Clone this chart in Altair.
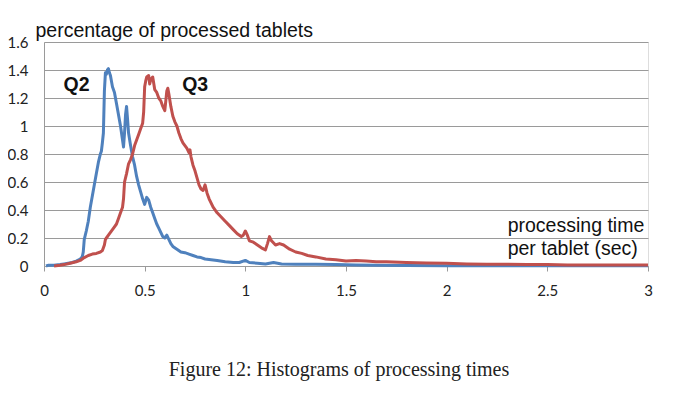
import altair as alt
import pandas as pd

# Q2 histogram (blue)
q2_x = [0.01, 0.02, 0.05, 0.08, 0.10, 0.12, 0.14, 0.16, 0.18, 0.19, 0.195, 0.20, 0.21, 0.22, 0.23,
        0.24, 0.25, 0.26, 0.27, 0.28, 0.285, 0.29, 0.295, 0.30, 0.305, 0.31, 0.315, 0.32, 0.325, 0.33,
        0.34, 0.35, 0.36, 0.37, 0.38, 0.39, 0.395, 0.40, 0.405, 0.41, 0.415, 0.42, 0.43, 0.44, 0.45,
        0.46, 0.47, 0.48, 0.49, 0.50, 0.51, 0.52, 0.53, 0.54, 0.55, 0.56, 0.57, 0.58, 0.59, 0.60,
        0.61, 0.62, 0.63, 0.64, 0.66, 0.68, 0.70, 0.72, 0.74, 0.76, 0.78, 0.80, 0.83, 0.86, 0.90,
        0.94, 0.97, 1.00, 1.02, 1.06, 1.10, 1.14, 1.18, 1.25, 1.35, 1.45, 1.55, 1.65, 1.80, 2.00,
        2.50, 3.00]
q2_y = [0.0, 0.005, 0.005, 0.01, 0.015, 0.02, 0.025, 0.035, 0.05, 0.065, 0.10, 0.19, 0.25, 0.32, 0.42,
        0.50, 0.58, 0.66, 0.74, 0.80, 0.82, 0.88, 0.95, 1.25, 1.38, 1.37, 1.40, 1.41, 1.38, 1.36,
        1.28, 1.24, 1.16, 1.08, 1.00, 0.90, 0.85, 0.95, 1.08, 1.14, 1.05, 0.95, 0.86, 0.78, 0.72,
        0.64, 0.58, 0.53, 0.48, 0.44, 0.49, 0.47, 0.42, 0.38, 0.34, 0.30, 0.27, 0.24, 0.21, 0.20,
        0.22, 0.19, 0.16, 0.14, 0.12, 0.10, 0.095, 0.085, 0.075, 0.065, 0.06, 0.05, 0.045, 0.04, 0.03,
        0.025, 0.025, 0.04, 0.025, 0.02, 0.015, 0.025, 0.015, 0.012, 0.012, 0.01, 0.008, 0.005, 0.003, 0.002,
        0.002, 0.002]

# Q3 histogram (red)
q3_x = [0.05, 0.08, 0.10, 0.13, 0.16, 0.18, 0.20, 0.22, 0.24, 0.26, 0.28, 0.29, 0.30, 0.305, 0.31,
        0.32, 0.33, 0.34, 0.35, 0.36, 0.37, 0.38, 0.39, 0.395, 0.40, 0.41, 0.42, 0.43, 0.44, 0.45,
        0.46, 0.47, 0.48, 0.49, 0.495, 0.50, 0.505, 0.51, 0.52, 0.525, 0.53, 0.54, 0.55, 0.56, 0.57,
        0.58, 0.59, 0.60, 0.605, 0.61, 0.615, 0.62, 0.63, 0.64, 0.65, 0.66, 0.67, 0.68, 0.69, 0.70,
        0.71, 0.72, 0.725, 0.73, 0.74, 0.75, 0.76, 0.77, 0.78, 0.79, 0.80, 0.81, 0.82, 0.84, 0.86,
        0.88, 0.90, 0.92, 0.94, 0.96, 0.98, 0.99, 1.00, 1.01, 1.02, 1.04, 1.06, 1.08, 1.10, 1.11,
        1.12, 1.13, 1.15, 1.17, 1.19, 1.22, 1.25, 1.28, 1.31, 1.35, 1.40, 1.45, 1.50, 1.55, 1.60,
        1.65, 1.70, 1.80, 1.90, 2.00, 2.10, 2.20, 2.30, 2.40, 2.50, 2.60, 2.70, 2.80, 2.90, 3.00]
q3_y = [0.0, 0.005, 0.01, 0.02, 0.03, 0.04, 0.06, 0.075, 0.085, 0.09, 0.10, 0.11, 0.15, 0.19, 0.20,
        0.22, 0.24, 0.26, 0.28, 0.30, 0.34, 0.38, 0.42, 0.48, 0.60, 0.66, 0.73, 0.76, 0.80, 0.86,
        0.90, 0.94, 0.98, 1.02, 1.10, 1.28, 1.32, 1.35, 1.36, 1.30, 1.33, 1.35, 1.26, 1.24, 1.20,
        1.18, 1.14, 1.11, 1.18, 1.25, 1.27, 1.23, 1.14, 1.07, 1.03, 1.00, 0.95, 0.91, 0.88, 0.86,
        0.84, 0.81, 0.83, 0.78, 0.72, 0.68, 0.63, 0.58, 0.55, 0.54, 0.58, 0.52, 0.48, 0.42, 0.38,
        0.35, 0.32, 0.29, 0.26, 0.23, 0.21, 0.22, 0.25, 0.22, 0.18, 0.17, 0.15, 0.13, 0.115, 0.16,
        0.21, 0.18, 0.15, 0.16, 0.15, 0.12, 0.10, 0.09, 0.075, 0.065, 0.05, 0.045, 0.035, 0.04, 0.035,
        0.03, 0.03, 0.025, 0.022, 0.02, 0.015, 0.012, 0.012, 0.01, 0.01, 0.008, 0.008, 0.008, 0.007, 0.007]

x_ticks = [0, 0.5, 1, 1.5, 2, 2.5, 3]
y_ticks = [0, 0.2, 0.4, 0.6, 0.8, 1.0, 1.2, 1.4, 1.6]

series_labels = ["Q2", "Q3"]
series_label_x = [0.162, 0.751]
series_label_y = [1.293, 1.293]

xtitle_lines = ["processing time", "per tablet (sec)"]
xtitle_x = [2.303, 2.303]
xtitle_y = [0.243, 0.0786]

BLUE = "#4F81BD"
RED = "#C0504D"

q2 = pd.DataFrame({"t": q2_x, "p": q2_y})
q3 = pd.DataFrame({"t": q3_x, "p": q3_y})
lab = pd.DataFrame({"label": series_labels, "t": series_label_x, "p": series_label_y})
xt = pd.DataFrame({"label": xtitle_lines, "t": xtitle_x, "p": xtitle_y})

x_enc = alt.X(
    "t:Q",
    scale=alt.Scale(domain=[0, 3], nice=False),
    axis=alt.Axis(
        values=x_ticks, format="~g", title="", grid=False,
        domainColor="#9a9a9a", tickColor="#9a9a9a", tickSize=5,
        labelPadding=12, labelFlush=False, labelOverlap=False,
        labelFont="Lato", labelFontSize=15, labelColor="#222222",
    ),
)
y_enc = alt.Y(
    "p:Q",
    scale=alt.Scale(domain=[0, 1.6], nice=False),
    axis=alt.Axis(
        values=y_ticks, tickCount=9, format="~g", grid=True, gridColor="#9a9a9a", gridWidth=1,
        ticks=False, tickSize=0, domainColor="#9a9a9a", labelOverlap=False, labelFlush=False,
        labelPadding=16, labelFont="Lato", labelFontSize=15, labelColor="#222222",
        title="percentage of processed tablets", titleAngle=0, titleAlign="left",
        titleBaseline="alphabetic", titleX=-9, titleY=-6,
        titleFont="Liberation Sans", titleFontSize=19.5, titleFontWeight="normal",
        titleColor="#111111",
    ),
)

line_q2 = alt.Chart(q2).mark_line(color=BLUE, strokeWidth=3, strokeJoin="round").encode(x=x_enc, y=y_enc)
line_q3 = alt.Chart(q3).mark_line(color=RED, strokeWidth=3, strokeJoin="round").encode(x="t:Q", y="p:Q")

labels = alt.Chart(lab).mark_text(
    font="Liberation Sans", fontSize=19.5, fontWeight="bold", color="#111111",
    align="center", baseline="middle",
).encode(x="t:Q", y="p:Q", text="label:N")

xtitle = alt.Chart(xt).mark_text(
    font="Liberation Sans", fontSize=19.5, color="#111111",
    align="left", baseline="alphabetic",
).encode(x="t:Q", y="p:Q", text="label:N")

chart = alt.layer(line_q2, line_q3, labels, xtitle).properties(
    width=604,
    height=224,
    padding={"left": 36, "top": 34, "right": 14, "bottom": 118},
    autosize=alt.AutoSizeParams(type="none"),
    title=alt.TitleParams(
        "Figure 12: Histograms of processing times",
        orient="bottom", anchor="middle", baseline="top", offset=62, dx=-7,
        font="Liberation Serif", fontSize=20, fontWeight="normal", color="#222222",
    ),
).configure_view(stroke=None).configure(background="white")

chart.save("out.html", embed_options={"renderer": "svg", "actions": False})
